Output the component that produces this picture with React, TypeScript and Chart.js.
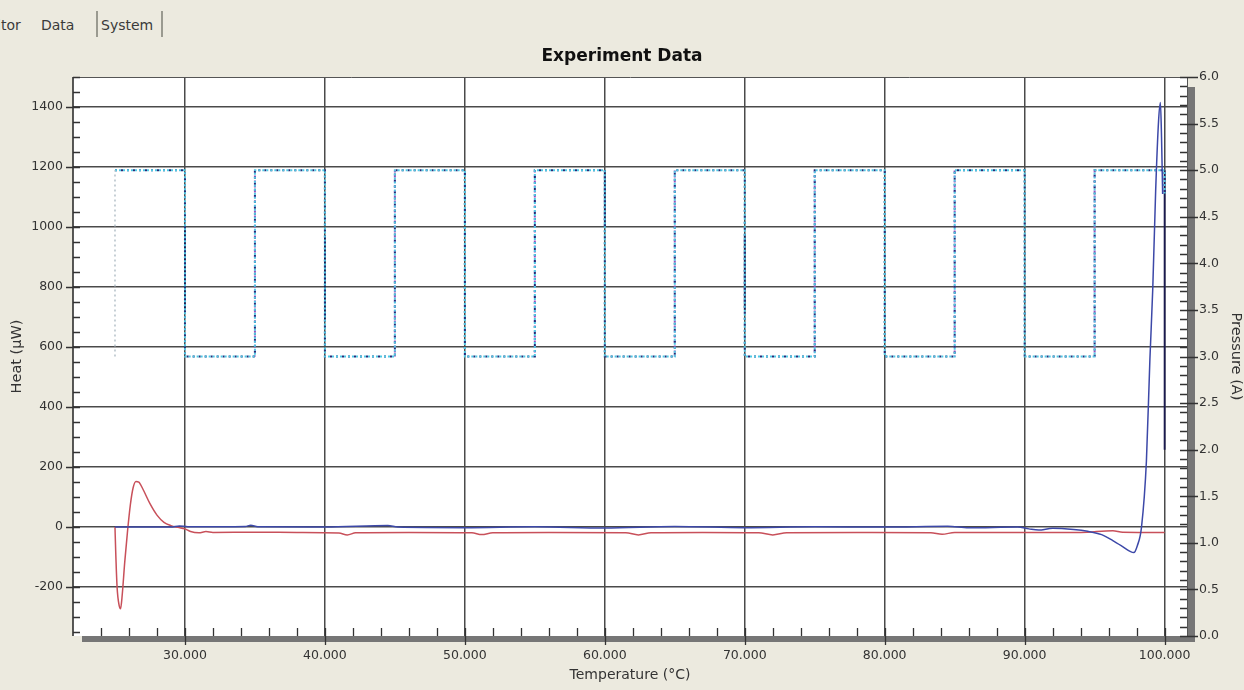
import React, { useEffect, useRef } from "react";
import { Chart, registerables } from "chart.js";

Chart.register(...registerables);

// ---- data ----
const redTemp = [25.0, 25.05, 25.15, 25.3, 25.4, 25.5, 25.7, 25.9, 26.1, 26.3, 26.5, 26.7, 27.0, 27.5, 28.0, 28.5, 29.0, 29.5, 30.0, 30.4, 31.0, 31.5, 32.0, 35.0, 38.0, 41.0, 41.6, 42.2, 46.0, 50.5, 51.2, 52.0, 56.0, 61.5, 62.4, 63.3, 67.0, 71.0, 72.0, 73.0, 78.0, 83.3, 84.1, 85.0, 90.0, 94.0, 96.3, 97.0, 100.0];
const redHeat = [0, -80, -200, -262, -272, -235, -115, -12, 75, 132, 152, 150, 126, 78, 40, 16, 5, -1, -6, -15, -19, -15, -18, -17, -18, -20, -26, -19, -18, -19, -25, -19, -18, -19, -26, -19, -18, -19, -26, -19, -18, -19, -24, -18, -18, -18, -12, -17, -18];

const blueTemp = [25.0, 29.0, 29.6, 30.2, 34.3, 34.7, 35.2, 40.0, 44.5, 45.2, 50.0, 55.0, 60.0, 65.0, 70.0, 75.0, 80.0, 84.5, 86.0, 89.5, 90.3, 91.0, 92.0, 93.5, 94.5, 95.5, 96.3, 97.0, 97.5, 97.8, 98.05, 98.35, 98.7, 98.95, 99.15, 99.36, 99.57, 99.7, 99.78, 99.86];
const blueHeat = [0, 0, 4, 1, 2, 6, 1, 0, 5, 0, -2, 1, -3, 2, -2, 1, 0, 3, -2, 0, -6, -10, -4, -8, -14, -25, -45, -65, -80, -85, -62, 0, 220, 560, 790, 1120, 1355, 1415, 1300, 1110];

const pressTemp = [25, 30, 30, 35, 35, 40, 40, 45, 45, 50, 50, 55, 55, 60, 60, 65, 65, 70, 70, 75, 75, 80, 80, 85, 85, 90, 90, 95, 95, 100, 100];
const pressVal = [5, 5, 3, 3, 5, 5, 3, 3, 5, 5, 3, 3, 5, 5, 3, 3, 5, 5, 3, 3, 5, 5, 3, 3, 5, 5, 3, 3, 5, 5, 4.75];

const risingTemp = [35, 35, 36, 45, 45, 46, 55, 55, 56, 65, 65, 66, 75, 75, 76, 85, 85, 86, 95, 95];
const risingVal: (number | null)[] = [3, 5, null, 3, 5, null, 3, 5, null, 3, 5, null, 3, 5, null, 3, 5, null, 3, 5];

const startTemp = [25, 25];
const startVal = [3, 5];

const navyTemp = [30, 30, 35, 40, 40, 50, 60, 60, 65, 70, 70, 85, 100, 100];
const navyVal: (number | null)[] = [4.4, 3.5, null, 4.3, 3.4, null, 5.0, 4.4, null, 4.3, 3.5, null, 5.0, 2.0];

const xRange = [22, 101.6];
const heatRange = [-363, 1500];
const pressRange = [0, 6];

const pts = (xs: number[], ys: (number | null)[]) => xs.map((x, i) => ({ x, y: ys[i] }));

const FONT = "'DejaVu Sans', 'Liberation Sans', sans-serif";
const GRID = "#4a4a4a";
const LABEL = "#333333";

const framePlugin = {
  id: "frame",
  beforeDraw(chart: any) {
    const { ctx, chartArea: a } = chart;
    ctx.save();
    ctx.fillStyle = "#ffffff";
    ctx.fillRect(a.left, a.top, a.right - a.left, a.bottom - a.top);
    ctx.restore();
  },
  afterDraw(chart: any) {
    const { ctx, chartArea: a, scales } = chart;
    const xs = scales.x, yl = scales.y, yr = scales.y1;
    ctx.save();
    // gray bars
    ctx.fillStyle = "#767676";
    ctx.fillRect(82, a.bottom, a.right + 8 - 82, 6);
    ctx.fillRect(a.right, a.top + 10, 8, a.bottom - a.top - 10 + 6);
    // frame lines
    ctx.strokeStyle = "#222";
    ctx.lineWidth = 1.5;
    ctx.beginPath();
    ctx.moveTo(a.left, a.top);
    ctx.lineTo(a.left, a.bottom);
    ctx.stroke();
    ctx.strokeStyle = "#555";
    ctx.lineWidth = 1;
    ctx.beginPath();
    ctx.moveTo(a.left, a.top + 0.5);
    ctx.lineTo(a.right + 1, a.top + 0.5);
    ctx.stroke();
    ctx.beginPath();
    ctx.moveTo(a.right + 0.5, a.top);
    ctx.lineTo(a.right + 0.5, a.bottom);
    ctx.stroke();
    // ticks
    ctx.strokeStyle = "#333";
    ctx.lineWidth = 1.3;
    ctx.beginPath();
    for (let v = -350; v <= 1500; v += 50) {
      const y = Math.round(yl.getPixelForValue(v)) + 0.5;
      if (y < a.top || y > a.bottom) continue;
      const major = v % 200 === 0;
      ctx.moveTo(major ? a.left - 7 : a.left, y);
      ctx.lineTo(a.left + 7, y);
    }
    for (let i = 0; i <= 60; i++) {
      const v = i / 10;
      const y = Math.round(yr.getPixelForValue(v)) + 0.5;
      const major = i % 5 === 0;
      ctx.moveTo(a.right - 7, y);
      ctx.lineTo(major ? a.right + 11 : a.right, y);
    }
    for (let v = 24; v <= 100; v += 2) {
      const x = Math.round(xs.getPixelForValue(v)) + 0.5;
      const major = v % 10 === 0;
      ctx.moveTo(x, a.bottom - 8);
      ctx.lineTo(x, major ? a.bottom + 9 : a.bottom);
    }
    ctx.stroke();
    ctx.restore();
  },
};

export default function App() {
  const ref = useRef<HTMLCanvasElement | null>(null);

  useEffect(() => {
    document.body.style.margin = "0";
    const canvas = ref.current;
    if (!canvas) return;
    const chart = new Chart(canvas, {
      type: "line",
      data: {
        datasets: [
          {
            label: "Heat 2",
            data: pts(blueTemp, blueHeat),
            yAxisID: "y",
            borderColor: "#3c48a8",
            borderWidth: 1.5,
            pointRadius: 0,
            cubicInterpolationMode: "monotone",
          },
          {
            label: "Heat 1",
            data: pts(redTemp, redHeat),
            yAxisID: "y",
            borderColor: "#c8505a",
            borderWidth: 1.5,
            pointRadius: 0,
            cubicInterpolationMode: "monotone",
          },
          {
            label: "Pressure start",
            data: pts(startTemp, startVal),
            yAxisID: "y1",
            borderColor: "#b4c0c8",
            borderWidth: 1.5,
            borderDash: [2, 3],
            pointRadius: 0,
          },
          {
            label: "Pressure A",
            data: pts(pressTemp, pressVal),
            yAxisID: "y1",
            borderColor: "#50c8e4",
            borderWidth: 2,
            borderDash: [2, 2],
            pointRadius: 0,
          },
          {
            label: "Pressure C",
            data: pts(pressTemp, pressVal),
            yAxisID: "y1",
            borderColor: "#262c78",
            borderWidth: 2,
            borderDash: [2, 4],
            borderDashOffset: 0,
            pointRadius: 0,
          },
          {
            label: "Pressure B",
            data: pts(risingTemp, risingVal),
            yAxisID: "y1",
            borderColor: "#9a4cc0",
            borderWidth: 2,
            borderDash: [2, 3],
            borderDashOffset: 1,
            pointRadius: 0,
            spanGaps: false,
          },
          {
            label: "Pressure D",
            data: pts(navyTemp, navyVal),
            yAxisID: "y1",
            borderColor: "#1a1a50",
            borderWidth: 1.8,
            pointRadius: 0,
            spanGaps: false,
          },
        ],
      },
      options: {
        responsive: false,
        animation: false,
        layout: { padding: 0 },
        plugins: {
          legend: { display: false },
          tooltip: { enabled: false },
          title: {
            display: true,
            text: "Experiment Data",
            color: "#111",
            font: { family: FONT, size: 17, weight: "bold" },
            padding: { top: 46.8, bottom: 9.8 },
          },
        },
        scales: {
          x: {
            type: "linear",
            position: "bottom",
            min: xRange[0],
            max: xRange[1],
            afterFit: (s: any) => {
              s.height = 54;
            },
            border: { display: false },
            grid: { color: GRID, lineWidth: 1.5, drawTicks: false },
            ticks: {
              stepSize: 10,
              includeBounds: false,
              autoSkip: false,
              maxRotation: 0,
              padding: 12,
              color: LABEL,
              font: { family: FONT, size: 12.5 },
              callback: (v: any) => Number(v).toFixed(3),
            },
            title: {
              display: true,
              text: "Temperature (°C)",
              color: LABEL,
              font: { family: FONT, size: 14 },
              padding: { top: 0, bottom: 6 },
            },
          },
          y: {
            type: "linear",
            position: "left",
            min: heatRange[0],
            max: heatRange[1],
            afterFit: (s: any) => {
              s.width = 73;
            },
            border: { display: false },
            grid: { color: GRID, lineWidth: 1.5, drawTicks: false },
            ticks: {
              stepSize: 200,
              includeBounds: false,
              padding: 10,
              color: LABEL,
              font: { family: FONT, size: 12.5 },
              callback: (v: any) => String(v),
            },
            title: {
              display: true,
              text: "Heat (µW)",
              color: LABEL,
              font: { family: FONT, size: 14.5 },
              padding: { top: 9, bottom: 0 },
            },
          },
          y1: {
            type: "linear",
            position: "right",
            min: pressRange[0],
            max: pressRange[1],
            afterFit: (s: any) => {
              s.width = 57;
            },
            border: { display: false },
            grid: { display: false, drawTicks: false },
            ticks: {
              stepSize: 0.5,
              padding: 12,
              color: LABEL,
              font: { family: FONT, size: 12.5 },
              callback: (v: any) => Number(v).toFixed(1),
            },
            title: {
              display: true,
              text: "Pressure (A)",
              color: LABEL,
              font: { family: FONT, size: 14.5 },
              padding: { top: 0, bottom: 0 },
            },
          },
        },
      } as any,
      plugins: [framePlugin],
    });
    return () => chart.destroy();
  }, []);

  const tabFont: React.CSSProperties = {
    position: "absolute",
    top: 16,
    fontFamily: FONT,
    fontSize: 14,
    color: "#3a3a3a",
    lineHeight: "18px",
  };

  return (
    <div
      style={{
        position: "relative",
        width: 1244,
        height: 690,
        background: "#ECEADF",
        overflow: "hidden",
      }}
    >
      <div style={{ ...tabFont, left: -3 }}>itor</div>
      <div style={{ ...tabFont, left: 41 }}>Data</div>
      <div style={{ position: "absolute", left: 96, top: 11, width: 2, height: 26, background: "#9a9a90" }} />
      <div style={{ ...tabFont, left: 101 }}>System</div>
      <div style={{ position: "absolute", left: 161, top: 11, width: 2, height: 26, background: "#9a9a90" }} />
      <canvas
        ref={ref}
        width={1244}
        height={690}
        style={{ position: "absolute", left: 0, top: 0, width: 1244, height: 690 }}
      />
    </div>
  );
}
